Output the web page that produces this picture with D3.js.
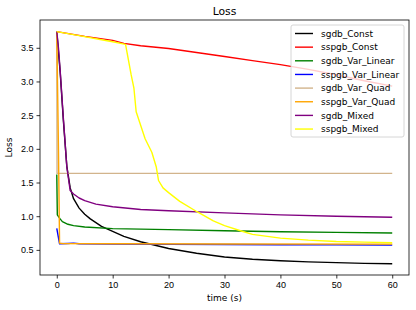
<!DOCTYPE html>
<html>
<head>
<meta charset="utf-8">
<script src="https://cdn.jsdelivr.net/npm/d3@7"></script>
<style>
  body { margin: 0; background: #fff; }
  svg { font-family: "DejaVu Sans", sans-serif; }
  .axis path, .axis line { stroke: #000; stroke-width: 0.8px; }
  .axis text { font-size: 9px; fill: #000; }
  .line { fill: none; stroke-width: 1.4px; stroke-linejoin: round; }
</style>
</head>
<body>
<svg width="416" height="310"></svg>
<script>
// series: [time (s), loss]
var sgdbConst = [[0,3.74],[0.6,3.15],[1.2,2.4],[1.8,1.74],[2.4,1.42],[3,1.26],[4,1.12],[5,1.03],[6,0.96],[8,0.85],[10,0.775],[12,0.70],[15,0.62],[20,0.52],[25,0.45],[30,0.395],[35,0.36],[40,0.338],[45,0.322],[50,0.31],[55,0.30],[60,0.295]];
var sspgbConst = [[0,3.74],[5,3.67],[10,3.61],[12,3.565],[15,3.53],[20,3.49],[25,3.43],[30,3.37],[35,3.31],[40,3.25],[45,3.18],[50,3.10],[55,3.01],[60,2.93]];
var sgdbVarLinear = [[0,1.62],[0.1,1.02],[0.6,0.96],[1,0.92],[2,0.88],[3,0.86],[5,0.84],[10,0.815],[20,0.80],[30,0.785],[40,0.77],[50,0.76],[60,0.75]];
var sspgbVarLinear = [[0,0.82],[0.5,0.59],[2,0.595],[3,0.6],[4,0.59],[10,0.585],[20,0.582],[30,0.58],[40,0.577],[50,0.574],[60,0.57]];
var sgdbVarQuad = [[0,3.74],[0.05,1.635],[60,1.635]];
var sspgbVarQuad = [[0,3.74],[0.3,2.0],[0.5,0.6],[1,0.595],[10,0.59],[30,0.588],[60,0.585]];
var sgdbMixed = [[0,3.74],[0.3,3.5],[0.6,3.17],[1.2,2.43],[1.8,1.73],[2.4,1.38],[3,1.33],[4,1.27],[5,1.23],[7,1.18],[10,1.14],[15,1.10],[20,1.08],[30,1.05],[40,1.02],[50,1.0],[60,0.985]];
var sspgbMixed = [[0,3.74],[4,3.68],[8,3.62],[10,3.59],[12.3,3.55],[13.3,3.1],[13.8,2.9],[14.2,2.55],[15,2.35],[15.8,2.15],[17,1.95],[17.8,1.73],[18.2,1.53],[19,1.42],[20,1.35],[22,1.22],[25,1.07],[28,0.93],[30,0.86],[33,0.78],[35,0.73],[40,0.675],[45,0.645],[50,0.625],[55,0.615],[60,0.605]];

var names = ["sgdb_Const","sspgb_Const","sgdb_Var_Linear","sspgb_Var_Linear","sgdb_Var_Quad","sspgb_Var_Quad","sgdb_Mixed","sspgb_Mixed"];
var colors = ["black","red","green","blue","tan","orange","purple","yellow"];
var series = [sgdbConst,sspgbConst,sgdbVarLinear,sspgbVarLinear,sgdbVarQuad,sspgbVarQuad,sgdbMixed,sspgbMixed];
var xTicks = [0,10,20,30,40,50,60];
var yTicks = [0.5,1.0,1.5,2.0,2.5,3.0,3.5];

var svg = d3.select("svg"),
    margin = {top: 20, right: 7, bottom: 35, left: 40},
    width = svg.attr("width") - margin.left - margin.right,
    height = svg.attr("height") - margin.top - margin.bottom,
    g = svg.append("g").attr("transform",
        "translate(" + margin.left + "," + margin.top + ")");

var x = d3.scaleLinear().domain([-3, 63]).range([0, width]),
    y = d3.scaleLinear().domain([0.127, 3.9125]).range([height, 0]);

var line = d3.line()
    .x(function(d) { return x(d[0]); })
    .y(function(d) { return y(d[1]); });

// axes
g.append("g")
    .attr("class", "axis")
    .attr("transform", "translate(0," + height + ")")
    .call(d3.axisBottom(x).tickValues(xTicks).tickSize(3.5).tickPadding(3).tickFormat(d3.format("d")))
    .select(".domain").remove();

g.append("g")
    .attr("class", "axis")
    .call(d3.axisLeft(y).tickValues(yTicks).tickSize(3.5).tickPadding(3).tickFormat(d3.format(".1f")))
    .select(".domain").remove();

// lines
g.selectAll(".line")
    .data(series)
    .enter().append("path")
    .attr("class", "line")
    .attr("d", line)
    .style("stroke", function(d, i) { return colors[i]; });

// frame
g.append("rect")
    .attr("width", width)
    .attr("height", height)
    .attr("fill", "none")
    .attr("stroke", "#000")
    .attr("stroke-width", 0.8);

// titles
svg.append("text")
    .attr("x", margin.left + width / 2)
    .attr("y", 15)
    .attr("text-anchor", "middle")
    .style("font-size", "10.8px")
    .text("Loss");

svg.append("text")
    .attr("x", margin.left + width / 2)
    .attr("y", 301)
    .attr("text-anchor", "middle")
    .style("font-size", "9px")
    .text("time (s)");

svg.append("text")
    .attr("transform", "translate(12," + (margin.top + height / 2) + ") rotate(-90)")
    .attr("text-anchor", "middle")
    .style("font-size", "9px")
    .text("Loss");

// legend
var legend = g.append("g").attr("transform", "translate(" + (width - 118) + ",5)");
legend.append("rect")
    .attr("width", 113)
    .attr("height", 112)
    .attr("rx", 2)
    .attr("fill", "#fff")
    .attr("fill-opacity", 0.8)
    .attr("stroke", "#ccc")
    .attr("stroke-width", 0.8);

var items = legend.selectAll(".item")
    .data(names)
    .enter().append("g")
    .attr("transform", function(d, i) { return "translate(0," + (8.5 + i * 13.65) + ")"; });

items.append("line")
    .attr("x1", 4).attr("x2", 22)
    .attr("stroke-width", 1.4)
    .attr("stroke", function(d, i) { return colors[i]; });

items.append("text")
    .attr("x", 30)
    .attr("dy", "0.35em")
    .style("font-size", "9px")
    .text(function(d) { return d; });
</script>
</body>
</html>
